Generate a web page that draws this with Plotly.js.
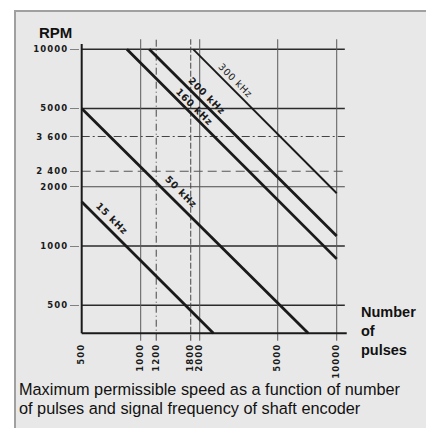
<!DOCTYPE html>
<html>
<head>
<meta charset="utf-8">
<script src="https://cdn.plot.ly/plotly-3.0.1.min.js"></script>
<style>
  html, body { margin: 0; padding: 0; background: #ffffff; }
  #frame { position: absolute; left: 14px; top: 10px; width: 412px; height: 418px;
           border-left: 2px solid #a0a0a0; border-top: 2px solid #a0a0a0; background: #e8e8e8; }
  #chart { position: absolute; left: 0; top: 0; width: 426px; height: 428px; }
  .xtick text, .ytick text { letter-spacing: 1.1px; }
  g.annotation[data-index="0"] text, g.annotation[data-index="1"] text,
  g.annotation[data-index="2"] text, g.annotation[data-index="3"] text,
  g.annotation[data-index="4"] text { letter-spacing: 0.7px; }
</style>
</head>
<body>
<div id="frame"></div>
<div id="chart"></div>
<script>
// ---- data ----
const pulseTicks = [500, 1000, 1200, 1800, 2000, 5000, 10000];
const pulseTickText = ['500', '1000', '1200', '1800', '2000', '5000', '10000'];
const rpmTicks = [500, 1000, 2000, 2400, 3600, 5000, 10000];
const rpmTickText = ['500', '1000', '2000', '2 400', '3 600', '5000', '10000'];

const rpmGridSolid = [10000, 5000, 1000, 500];
const rpmGridThin = [2000];
const rpmGridDashDot = [3600];
const rpmGridDash = [2400];
const pulseGridSolid = [1000, 2000, 5000, 10000];
const pulseGridDashDot = [1200];
const pulseGridDash = [1800];

const freqLabels = ['15 kHz', '50 kHz', '160 kHz', '200 kHz', '300 kHz'];
const pulses15 = [500, 2350];   const rpm15 = [1680, 360];
const pulses50 = [500, 7160];   const rpm50 = [5000, 360];
const pulses160 = [850, 10000]; const rpm160 = [10000, 860];
const pulses200 = [1106, 10000]; const rpm200 = [10000, 1124];
const pulses300 = [1855, 10000]; const rpm300 = [10000, 1854];

const rpmMin = 360, pulseMin = 500;

// ---- layout geometry ----
const L = 80, R = 79, T = 39, B = 87, W = 426, H = 428;
const PW = W - L - R, PH = H - T - B;
const px2x = p => (p - L) / PW;
const px2y = p => (H - B - p) / PH;

const traces = [];
function line(xs, ys, color, width, dash) {
  traces.push({ x: xs, y: ys, type: 'scatter', mode: 'lines', hoverinfo: 'skip',
    showlegend: false, line: { color: color, width: width, dash: dash || 'solid' } });
}
const hX = [pulseMin, 11000];
const vY = [330, 11250];
rpmGridSolid.forEach(v => line(hX, [v, v], '#2b2b2b', 1.5));
rpmGridThin.forEach(v => line(hX, [v, v], '#4a4a4a', 1.1));
rpmGridDashDot.forEach(v => line(hX, [v, v], '#444', 1.1, '8px,3px,2px,3px'));
rpmGridDash.forEach(v => line(hX, [v, v], '#555', 1.1, '9px,5px'));
pulseGridSolid.forEach(v => line([v, v], vY, '#5a5a5a', 1));
pulseGridDashDot.forEach(v => line([v, v], vY, '#444', 1, '7px,3px,1px,3px'));
pulseGridDash.forEach(v => line([v, v], vY, '#444', 1, '6px,2px'));
// axes
line([pulseMin, pulseMin], [rpmMin, 10650], '#1a1a1a', 2);
line([pulseMin, 11250], [rpmMin, rpmMin], '#1a1a1a', 2);
// frequency lines
line(pulses15, rpm15, '#1a1a1a', 2.8);
line(pulses50, rpm50, '#1a1a1a', 2.8);
line(pulses160, rpm160, '#1a1a1a', 2.8);
line(pulses200, rpm200, '#1a1a1a', 2.8);
line(pulses300, rpm300, '#1a1a1a', 1.9);

const lblFont = { family: 'DejaVu Sans', size: 9.5, color: '#1a1a1a', weight: 'bold' };
function lbl(text, x, y, weight) {
  return { text: text, x: Math.log10(x), y: Math.log10(y), xref: 'x', yref: 'y',
    showarrow: false, textangle: 45, xanchor: 'center', yanchor: 'middle',
    font: Object.assign({}, lblFont, { weight: weight || 'bold' }) };
}

const annotations = [
  lbl(freqLabels[0], 716, 1383),
  lbl(freqLabels[1], 1606, 1888),
  lbl(freqLabels[2], 1875, 5108),
  lbl(freqLabels[3], 2180, 5850),
  lbl(freqLabels[4], 3053, 6925, 'normal'),
  { text: 'RPM', xref: 'paper', yref: 'paper', x: px2x(37), y: px2y(32), xanchor: 'left', yanchor: 'middle',
    showarrow: false, font: { family: 'Liberation Sans', size: 15, color: '#111', weight: 'bold' } },
  { text: 'Number<br>of<br>pulses', xref: 'paper', yref: 'paper', x: px2x(359), y: px2y(331), xanchor: 'left', yanchor: 'middle',
    align: 'left', showarrow: false, font: { family: 'Liberation Sans', size: 14.5, color: '#111', weight: 'bold' } },
  { text: 'Maximum permissible speed as a function of number', xref: 'paper', yref: 'paper', x: px2x(17), y: px2y(389.5),
    xanchor: 'left', yanchor: 'middle', showarrow: false, font: { family: 'Liberation Sans', size: 16.3, color: '#111' } },
  { text: 'of pulses and signal frequency of shaft encoder', xref: 'paper', yref: 'paper', x: px2x(17), y: px2y(408),
    xanchor: 'left', yanchor: 'middle', showarrow: false, font: { family: 'Liberation Sans', size: 16.3, color: '#111' } }
];

const tickFont = { family: 'DejaVu Sans', size: 8.5, color: '#1a1a1a', weight: 'bold' };
const layout = {
  width: W, height: H,
  margin: { l: L, r: R, t: T, b: B, pad: 0 },
  paper_bgcolor: 'rgba(0,0,0,0)', plot_bgcolor: 'rgba(0,0,0,0)',
  showlegend: false,
  xaxis: { type: 'log', range: [2.6903, 4.0525], tickmode: 'array', tickvals: pulseTicks, ticktext: pulseTickText,
    tickangle: -90, tickfont: tickFont, showgrid: false, zeroline: false, showline: false, ticks: '', fixedrange: true },
  yaxis: { type: 'log', range: [2.51703, 4.05236], tickmode: 'array', tickvals: rpmTicks, ticktext: rpmTickText,
    tickfont: tickFont, showgrid: false, zeroline: false, showline: false, ticks: 'outside', ticklen: 9,
    tickcolor: '#808080', tickwidth: 1, fixedrange: true },
  annotations: annotations
};
Plotly.newPlot('chart', traces, layout, { displayModeBar: false, staticPlot: true });
</script>
</body>
</html>
